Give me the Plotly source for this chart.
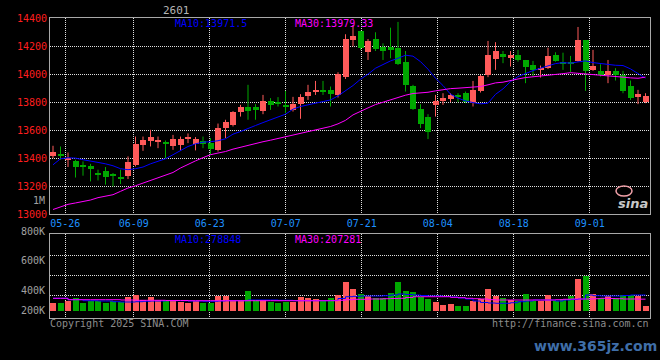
import plotly.graph_objects as go

# ---------------- data ----------------
dates = ["05-22", "05-23", "05-26", "05-27", "05-28", "05-29", "05-30", "06-03", "06-04", "06-05",
         "06-06", "06-09", "06-10", "06-11", "06-12", "06-13", "06-16", "06-17", "06-18", "06-19",
         "06-20", "06-23", "06-24", "06-25", "06-26", "06-27", "06-30", "07-01", "07-02", "07-03",
         "07-04", "07-07", "07-08", "07-09", "07-10", "07-11", "07-14", "07-15", "07-16", "07-17",
         "07-18", "07-21", "07-22", "07-23", "07-24", "07-25", "07-28", "07-29", "07-30", "07-31",
         "08-01", "08-04", "08-05", "08-06", "08-07", "08-08", "08-11", "08-12", "08-13", "08-14",
         "08-15", "08-18", "08-19", "08-20", "08-21", "08-22", "08-25", "08-26", "08-27", "08-28",
         "08-29", "09-01", "09-02", "09-03", "09-04", "09-05", "09-08", "09-09", "09-10", "09-11"]

opens = [13416, 13426, 13383, 13376, 13343, 13338, 13290, 13305, 13276, 13261,
         13269, 13352, 13495, 13517, 13517, 13507, 13483, 13495, 13536, 13500,
         13519, 13507, 13459, 13612, 13633, 13726, 13761, 13766, 13733, 13809,
         13793, 13771, 13745, 13786, 13845, 13869, 13886, 13888, 13847, 13981,
         14245, 14305, 14157, 14252, 14190, 14193, 14186, 14086, 13912, 13752,
         13695, 13781, 13809, 13824, 13852, 13864, 13793, 13881, 13990, 14109,
         14145, 14114, 14138, 14102, 14062, 14031, 14043, 14138, 14086, 14083,
         14095, 14245, 14031, 14019, 13995, 14019, 13995, 13912, 13833, 13797]
highs = [13488, 13483, 13440, 13388, 13376, 13359, 13317, 13336, 13293, 13317,
         13412, 13554, 13554, 13602, 13554, 13526, 13566, 13554, 13576, 13550,
         13554, 13543, 13647, 13674, 13736, 13781, 13924, 13786, 13852, 13829,
         13836, 13881, 13838, 13857, 13924, 13952, 13952, 13912, 14014, 14286,
         14352, 14310, 14252, 14300, 14221, 14333, 14374, 14166, 13924, 13786,
         13714, 13852, 13864, 13864, 13864, 13876, 13952, 13995, 14238, 14229,
         14166, 14166, 14174, 14102, 14095, 14062, 14190, 14157, 14154, 14131,
         14338, 14245, 14174, 14071, 14102, 14043, 14024, 13955, 13888, 13864]
lows = [13400, 13388, 13336, 13261, 13274, 13233, 13240, 13210, 13198, 13214,
        13250, 13340, 13452, 13483, 13471, 13400, 13459, 13452, 13507, 13455,
        13471, 13424, 13447, 13543, 13626, 13697, 13674, 13674, 13714, 13745,
        13769, 13721, 13733, 13681, 13816, 13852, 13852, 13769, 13833, 13966,
        14200, 14174, 14102, 14166, 14102, 14114, 14066, 13876, 13745, 13614,
        13536, 13697, 13781, 13800, 13800, 13793, 13769, 13869, 13979, 14031,
        14079, 14055, 14090, 13936, 13983, 13976, 14038, 14090, 14031, 14014,
        14090, 13881, 14024, 13983, 13936, 13955, 13864, 13816, 13786, 13793]
closes = [13440, 13411, 13400, 13333, 13336, 13317, 13274, 13264, 13271, 13245,
          13369, 13502, 13526, 13547, 13526, 13500, 13538, 13536, 13543, 13531,
          13500, 13466, 13616, 13654, 13726, 13766, 13738, 13745, 13809, 13781,
          13786, 13764, 13786, 13838, 13874, 13888, 13874, 13857, 13997, 14252,
          14274, 14186, 14233, 14178, 14162, 14169, 14074, 13924, 13752, 13643,
          13583, 13809, 13829, 13852, 13836, 13800, 13888, 13988, 14138, 14162,
          14119, 14133, 14102, 14050, 14031, 14043, 14126, 14095, 14071, 14071,
          14245, 14024, 14055, 13990, 14019, 13995, 13881, 13829, 13859, 13840]

ma10 = [13352, 13395, 13402, 13400, 13388, 13381, 13369, 13359, 13345, 13324,
        13317, 13324, 13336, 13359, 13376, 13395, 13424, 13454, 13483, 13502,
        13514, 13517, 13524, 13538, 13571, 13590, 13614, 13633, 13654, 13674,
        13693, 13714, 13750, 13769, 13781, 13793, 13805, 13816, 13845, 13881,
        13919, 13964, 14000, 14043, 14071, 14095, 14114, 14136, 14129, 14090,
        14036, 13971, 13919, 13857, 13829, 13809, 13797, 13788, 13793, 13856,
        13895, 13947, 13983, 14005, 14026, 14043, 14059, 14076, 14083, 14079,
        14088, 14095, 14083, 14076, 14069, 14064, 14062, 14038, 14005, 13971.5]
ma30 = [13032, 13051, 13069, 13079, 13090, 13100, 13117, 13126, 13138, 13162,
        13186, 13202, 13221, 13238, 13254, 13274, 13297, 13329, 13357, 13380,
        13403, 13424, 13436, 13447, 13464, 13478, 13490, 13502, 13517, 13528,
        13540, 13554, 13562, 13576, 13588, 13600, 13612, 13626, 13645, 13670,
        13709, 13736, 13759, 13783, 13800, 13819, 13836, 13850, 13862, 13866,
        13871, 13881, 13890, 13897, 13900, 13905, 13907, 13912, 13924, 13938,
        13943, 13952, 13966, 13976, 13981, 13986, 13990, 13997, 14004, 14011,
        14007, 14004, 14000, 13993, 13988, 13983, 13979, 13974, 13971, 13979.33]

volume = [140000, 140000, 163000, 227500, 140000, 175000, 163000, 140000, 163000, 145000,
          245000, 280000, 180000, 245000, 180000, 180000, 180000, 157500, 140000, 170000,
          140000, 140000, 262500, 262500, 180000, 180000, 350000, 180000, 180000, 157500,
          140000, 157500, 157500, 245000, 222000, 205000, 163000, 227500, 280000, 495000,
          385000, 297500, 250000, 222000, 222000, 315000, 495000, 350000, 327000, 233000,
          210000, 145000, 105000, 122500, 87500, 87500, 163000, 210000, 385000, 262500,
          222000, 192500, 175000, 297500, 175000, 175000, 268000, 175000, 210000, 250000,
          560000, 600000, 297500, 222000, 250000, 222000, 268000, 268000, 250000, 87500]
vol_ma10 = [222000, 222000, 198000, 198000, 180000, 180000, 175000, 175000, 163000, 157500,
            157500, 163000, 170000, 175000, 175000, 180000, 180000, 180000, 175000, 175000,
            170000, 170000, 175000, 180000, 180000, 180000, 192500, 192500, 192500, 192500,
            187000, 187000, 180000, 180000, 180000, 180000, 180000, 184000, 219000, 250000,
            257000, 262500, 262500, 262500, 268000, 280000, 297500, 289000, 280000, 271000,
            262500, 262500, 254000, 245000, 227500, 210000, 175000, 149000, 140000, 135000,
            135000, 145000, 163000, 175000, 192500, 192500, 192500, 175000, 192500, 201000,
            210000, 280000, 268000, 262500, 262500, 262500, 271000, 280000, 280000, 278848]
vol_ma30 = [222000, 222000, 198000, 198000, 198000, 198000, 198000, 198000, 198000, 192500,
            192500, 187000, 187000, 187000, 187000, 184000, 184000, 184000, 180000, 180000,
            180000, 180000, 180000, 180000, 180000, 180000, 180000, 180000, 180000, 180000,
            180000, 180000, 180000, 180000, 180000, 180000, 180000, 180000, 187000, 198000,
            205000, 205000, 210000, 210000, 215000, 219000, 222000, 236000, 250000, 250000,
            250000, 250000, 250000, 240000, 233000, 222000, 215000, 210000, 198000, 192500,
            192500, 192500, 192500, 192500, 192500, 192500, 192500, 198000, 205000, 210000,
            210000, 210000, 215000, 222000, 219000, 215000, 210000, 210000, 207000, 207281]

price_ticks = [13000, 13200, 13400, 13600, 13800, 14000, 14200, 14400]
date_ticks = ["05-26", "06-09", "06-23", "07-07", "07-21", "08-04", "08-18", "09-01"]
vol_tick_labels = ["800K", "600K", "400K", "200K"]
contract = "2601"

# ---------------- style ----------------
W, H = 660, 360
ML, MR = 50, 10
PW = W - ML - MR
RED = "#ff5a5a"
GREEN = "#00a800"
BLUE = "#0000ff"
MAGENTA = "#ff00ff"
GRID = "#e0e0e0"
FRAME = "#a8a8a8"
MONO = "DejaVu Sans Mono, Liberation Mono, monospace"

n = len(dates)
idx = list(range(n))
up = [c >= o for o, c in zip(opens, closes)]
colors = [RED if u else GREEN for u in up]

fig = go.Figure()

# wicks
for flag, col in [(True, RED), (False, GREEN)]:
    xs, ys = [], []
    for i in idx:
        if up[i] == flag:
            xs += [i, i, None]
            ys += [lows[i], highs[i], None]
    fig.add_trace(go.Scatter(x=xs, y=ys, mode="lines", line=dict(color=col, width=1),
                             hoverinfo="skip", xaxis="x", yaxis="y"))

# bodies
body_base = [min(o, c) for o, c in zip(opens, closes)]
body_h = [max(abs(c - o), 8) for o, c in zip(opens, closes)]
fig.add_trace(go.Bar(x=idx, y=body_h, base=body_base, width=0.8,
                     marker=dict(color=colors, line=dict(width=0)), xaxis="x", yaxis="y"))

# price moving averages
fig.add_trace(go.Scatter(x=idx, y=ma10, mode="lines", line=dict(color=BLUE, width=1),
                         xaxis="x", yaxis="y"))
fig.add_trace(go.Scatter(x=idx, y=ma30, mode="lines", line=dict(color=MAGENTA, width=1),
                         xaxis="x", yaxis="y"))

# volume
fig.add_trace(go.Bar(x=idx, y=volume, width=0.8,
                     marker=dict(color=colors, line=dict(width=0)), xaxis="x2", yaxis="y2"))
fig.add_trace(go.Scatter(x=idx, y=vol_ma10, mode="lines", line=dict(color=BLUE, width=1, shape="hv"),
                         xaxis="x2", yaxis="y2"))
fig.add_trace(go.Scatter(x=idx, y=vol_ma30, mode="lines", line=dict(color=MAGENTA, width=1, shape="hv"),
                         xaxis="x2", yaxis="y2"))

# tick positions (Sina spaces its date grid slightly wider than the candles)
tick_idx = [dates.index(d) for d in date_ticks]
tick_pos = [i * 7.6 / 7.5 - 2.9 / 7.5 for i in tick_idx]

# volume scale: ~17.5K per pixel, baseline 7px above the frame bottom
px_per = 17500
vol_range = [-7.3 * px_per, 76.7 * px_per]
vol_grid = [15.7 * px_per, 35.7 * px_per, 55.7 * px_per]

axis_common = dict(showline=True, mirror=True, linecolor=FRAME, linewidth=1, zeroline=False,
                   gridcolor=GRID, griddash="1px,1px", gridwidth=1, ticks="", automargin=False)

fig.update_layout(
    width=W, height=H, autosize=False,
    margin=dict(l=ML, r=MR, t=0, b=0, pad=0, autoexpand=False),
    paper_bgcolor="black", plot_bgcolor="black",
    showlegend=False, barmode="overlay", bargap=0,
    xaxis=dict(domain=[0, 1], range=[-0.4, 79.6], tickvals=tick_pos, ticktext=date_ticks,
               showgrid=True, tickfont=dict(color="#1e90ff", family=MONO, size=10),
               anchor="y", **axis_common),
    yaxis=dict(domain=[1 - 214 / H, 1 - 18.3 / H], range=[13000, 14400], tickvals=price_ticks,
               ticktext=[str(v) for v in price_ticks], showgrid=True,
               tickfont=dict(color="#ff1e1e", family=MONO, size=10), anchor="x", **axis_common),
    xaxis2=dict(domain=[0, 1], range=[-0.4, 79.6], tickvals=tick_pos, showticklabels=False,
                showgrid=True, anchor="y2", **axis_common),
    yaxis2=dict(domain=[1 - 318.3 / H, 1 - 234.3 / H], range=vol_range, tickvals=vol_grid,
                showticklabels=False, showgrid=True, anchor="x2", **axis_common),
)


def ann(text, x, y, color, xanchor="left", size=10, family=MONO, **kw):
    fig.add_annotation(text=text, x=(x - ML) / PW, y=1 - y / H, xref="paper", yref="paper",
                       xanchor=xanchor, yanchor="middle", showarrow=False, borderpad=0,
                       font=dict(color=color, size=size, family=family), **kw)


ann(contract, 176, 10, "#b4b4b4", xanchor="center", size=11)
ann(f"MA10:{ma10[-1]}", 174, 23.5, BLUE)
ann(f"MA30:{ma30[-1]}", 294, 23.5, MAGENTA)
ann(f"MA10:{vol_ma10[-1]}", 174, 239, BLUE)
ann(f"MA30:{vol_ma30[-1]}", 294, 239, MAGENTA)
ann("1M", 46, 200.5, "#a0a0a0", xanchor="right")
for lab, yy in zip(vol_tick_labels, [231, 260, 290.5, 310.7]):
    ann(lab, 46, yy, "#a0a0a0", xanchor="right")
ann("Copyright 2025 SINA.COM", 49, 323.5, "#8c8c8c")
ann("http://finance.sina.com.cn", 650, 323.5, "#8c8c8c", xanchor="right")
fig.add_shape(type="circle", xref="paper", yref="paper",
              x0=(616 - ML) / PW, x1=(632 - ML) / PW, y0=1 - 196 / H, y1=1 - 186 / H,
              line=dict(color="#f0a0a8", width=1.5), fillcolor="rgba(0,0,0,0)")
ann("<b><i>sina</i></b>", 633, 203, "#c8c8c8", xanchor="center", size=13,
    family="DejaVu Sans, sans-serif")
ann("<b>www.365jz.com</b>", 595, 346, "#3f6ea8", xanchor="center", size=14,
    family="DejaVu Sans, sans-serif")

fig.write_html("out.html", config={"displayModeBar": False},
               post_script="document.body.style.margin='0';document.body.style.background='black';")
